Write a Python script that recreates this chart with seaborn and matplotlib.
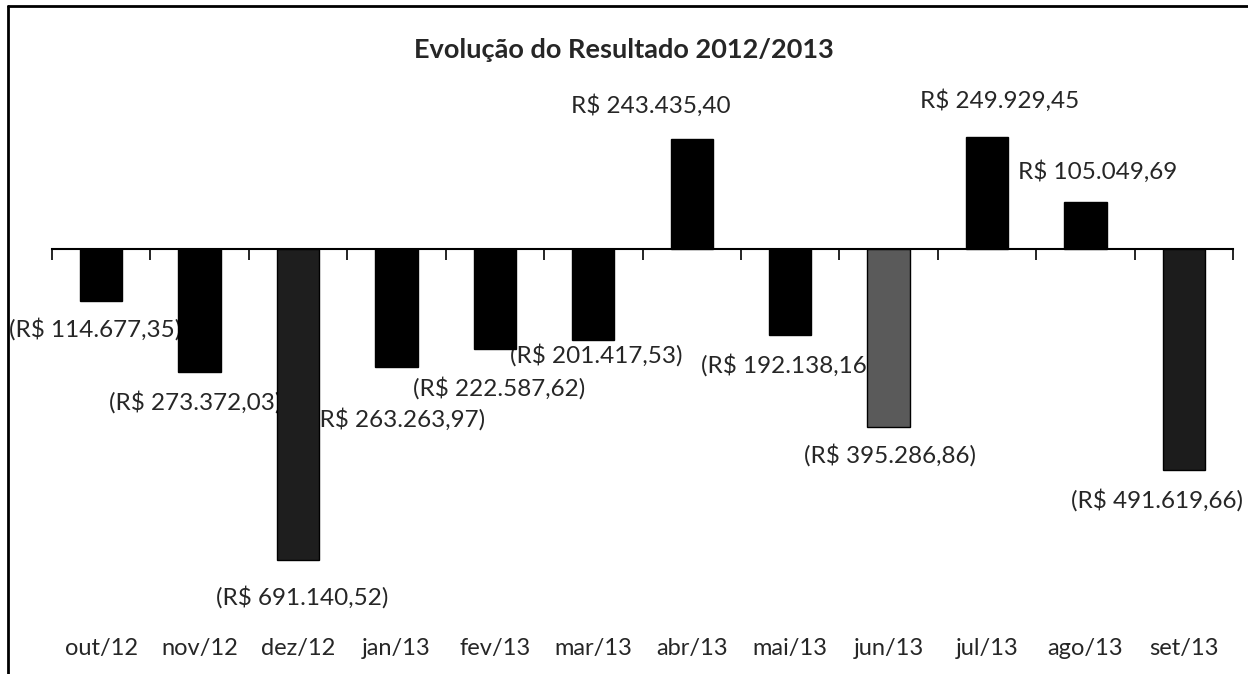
import matplotlib
matplotlib.use('Agg')
import matplotlib.pyplot as plt
import seaborn as sns
from matplotlib.lines import Line2D
from matplotlib.ticker import FixedLocator

# Dados do gráfico
meses = ['out/12', 'nov/12', 'dez/12', 'jan/13', 'fev/13', 'mar/13',
         'abr/13', 'mai/13', 'jun/13', 'jul/13', 'ago/13', 'set/13']
resultado = [-114677.35, -273372.03, -691140.52, -263263.97, -222587.62, -201417.53,
             243435.40, -192138.16, -395286.86, 249929.45, 105049.69, -491619.66]
cores = ['#000000', '#000000', '#1e1e1e', '#000000', '#000000', '#000000',
         '#000000', '#000000', '#5a5a5a', '#000000', '#000000', '#1c1c1c']

# deslocamento dos rótulos (pixels) em relação à ponta de cada barra
desloc = [(-6, -29), (-4, -30), (4, -37), (3, -52), (4, -39), (3, -15),
          (-41, 34), (-3, -30), (1, -28), (13, 36), (12, 30), (-27, -30)]


def brl(v):
    s = f"{abs(v):,.2f}".replace(',', 'X').replace('.', ',').replace('X', '.')
    return f"(R$ {s})" if v < 0 else f"R$ {s}"


sns.set_style('white')
plt.rcParams['font.family'] = ['Lato', 'DejaVu Sans']

fig = plt.figure(figsize=(12.48, 6.74), dpi=100)
ax = fig.add_axes([52 / 1248, 1 - 564 / 674, (1233 - 52) / 1248, 450 / 674])

sns.barplot(x=meses, y=resultado, hue=meses, palette=cores, saturation=1,
            width=0.43, edgecolor='black', linewidth=1, legend=False, ax=ax)
for p in ax.patches:
    p.set_zorder(2)

for i, v in enumerate(resultado):
    dx, dy = desloc[i]
    ax.annotate(brl(v), xy=(i, v), xytext=(dx, dy), textcoords='offset pixels',
                ha='center', va='center', fontsize=17.5, zorder=1,
                annotation_clip=False)

ax.set_xlim(-0.5, 11.5)
ax.set_ylim(-700000, 300000)
ax.set_yticks([])
ax.set_ylabel('')

for s in ['left', 'right', 'bottom']:
    ax.spines[s].set_visible(False)
ax.spines['top'].set_position(('data', 0))
ax.spines['top'].set_color('black')
ax.spines['top'].set_linewidth(1.5)
ax.spines['top'].set_zorder(3)

ax.xaxis.set_minor_locator(FixedLocator([k - 0.5 for k in range(13)]))
ax.tick_params(axis='x', which='minor', top=True, bottom=False, direction='in',
               length=8, width=1.2, color='black')
ax.tick_params(axis='x', which='major', top=False, bottom=True, length=0,
               pad=53, labelsize=17)

fig.text(0.5, 1 - 50 / 674, 'Evolução do Resultado 2012/2013', ha='center',
         va='center', fontsize=19.5, fontweight='bold')

# moldura (parte visível)
fig.add_artist(Line2D([8 / 1248, 1], [1 - 6 / 674, 1 - 6 / 674], color='black', lw=2))
fig.add_artist(Line2D([8 / 1248, 8 / 1248], [0, 1 - 6 / 674], color='black', lw=2))

fig.savefig('out.png', dpi=100)
